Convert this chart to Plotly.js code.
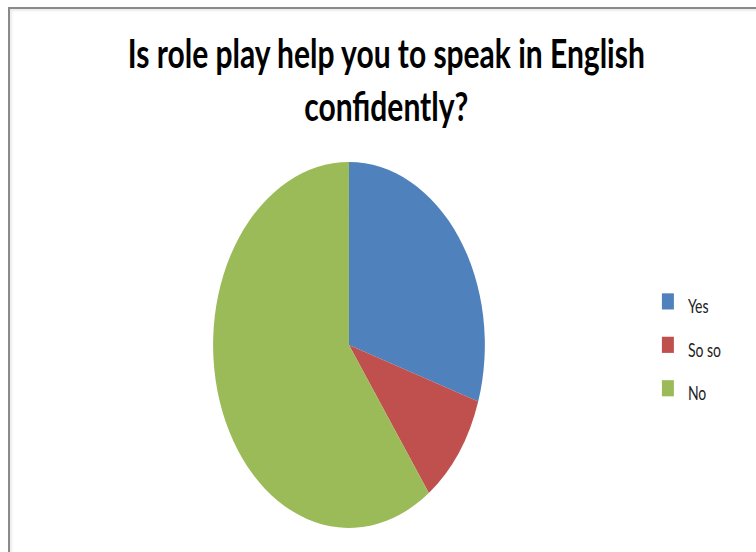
<!DOCTYPE html>
<html>
<head>
<meta charset="utf-8">
<script src="https://cdn.plot.ly/plotly-3.0.1.min.js"></script>
<style>
html, body { margin: 0; padding: 0; width: 756px; height: 552px; overflow: hidden; background: #ffffff; }
#frame { position: absolute; left: 8px; top: 7px; width: 900px; height: 700px;
  border-left: 2px solid #8a8a8a; border-top: 2px solid #8a8a8a; box-shadow: inset 2px 2px 2px rgba(0,0,0,0.08); }
#chart { position: absolute; left: 0; top: 0; width: 756px; height: 410px;
  transform: scaleY(1.3463); transform-origin: 0 0; }
</style>
</head>
<body>
<div id="frame"></div>
<div id="chart"></div>
<script>
// Data
const categories = ['Yes', 'So so', 'No'];
const values = [30, 10, 60];
const sliceColors = ['#4F81BD', '#C0504D', '#9BBB59'];
const chartTitle = 'Is role play help you to speak in English<br>confidently?';

const legendLabels = categories.map(c => '<span style="font-size:14px">' + c + '</span>');

const trace = {
  type: 'pie',
  labels: legendLabels,
  values: values,
  sort: false,
  direction: 'clockwise',
  rotation: 0,
  textinfo: 'none',
  hoverinfo: 'label+percent',
  marker: { colors: sliceColors, line: { width: 0 } },
  domain: { x: [0.2817, 0.6415], y: [0.0436, 0.7064] }
};

const layout = {
  width: 756,
  height: 410,
  margin: { l: 0, r: 0, t: 0, b: 0 },
  paper_bgcolor: 'rgba(0,0,0,0)',
  plot_bgcolor: 'rgba(0,0,0,0)',
  font: { family: 'Lato, Carlito, sans-serif', color: '#000000' },
  title: {
    text: chartTitle,
    font: { family: 'Lato, sans-serif', size: 30, color: '#000000', weight: 'bold' },
    x: 0.511, xanchor: 'center', xref: 'paper',
    y: 0.876, yanchor: 'top', yref: 'container'
  },
  showlegend: true,
  legend: {
    x: 0.857, xanchor: 'left', y: 0.375, yanchor: 'middle',
    font: { family: 'Lato, sans-serif', size: 22.5, color: '#222222' },
    bgcolor: 'rgba(0,0,0,0)', borderwidth: 0
  }
};

Plotly.newPlot('chart', [trace], layout, { displayModeBar: false, staticPlot: true });
</script>
</body>
</html>
